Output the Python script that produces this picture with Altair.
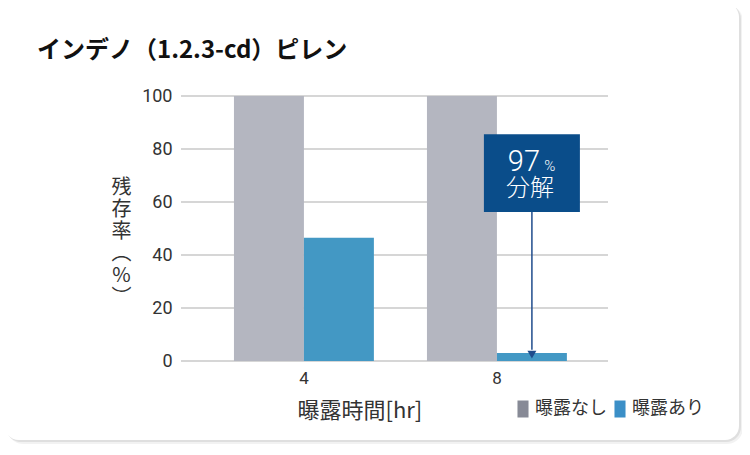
import altair as alt
import pandas as pd

# ---------------- data ----------------
hours = ["4", "8"]
groups = ["曝露なし", "曝露あり"]
no_exposure = [100, 100]
with_exposure = [46.5, 3]
y_ticks = [0, 20, 40, 60, 80, 100]

title_text = "インデノ（1.2.3-cd）ピレン"
y_title = ["残", "存", "率", "︵", "%", "︶"]
x_title = "曝露時間[hr]"
note_value = "97"
note_unit = "%"
note_word = "分解"

# ---------------- styles / layout ----------------
bar_colors = ["#b4b6c0", "#4398c4"]
legend_colors = ["#878a96", "#3b8fc7"]
box_color = "#0a4d8a"
arrow_color = "#1f4c8c"
grid_color = "#c8c8c8"
CJK = "Noto Sans CJK JP"
NUM = "Roboto"
W, H = 427, 265

# annotation placement in data units (box spans, arrow ends)
box_top, box_bottom = 85.6, 56.2
arrow_end, head_pos = 4.2, 2.4
num_base, word_mid = 71.8, 65.0

rows = []
for i, h in enumerate(hours):
    rows.append({"hr": h, "group": groups[0], "value": no_exposure[i]})
    rows.append({"hr": h, "group": groups[1], "value": with_exposure[i]})
df = pd.DataFrame(rows)

grid_df = pd.DataFrame({"value": y_ticks})
ann = pd.DataFrame({
    "hr": [hours[1]], "group": [groups[1]],
    "value": [box_top], "value2": [box_bottom],
})
arrow = pd.DataFrame({
    "hr": [hours[1]], "group": [groups[1]],
    "value": [box_bottom], "value2": [arrow_end],
})
head = pd.DataFrame({"hr": [hours[1]], "group": [groups[1]], "value": [head_pos]})
num_df = pd.DataFrame({"hr": [hours[1]], "group": [groups[1]], "value": [num_base]})
word_df = pd.DataFrame({"hr": [hours[1]], "group": [groups[1]], "value": [word_mid]})
one = pd.DataFrame({"k": [0]})

x_axis = alt.Axis(
    title=x_title, labelAngle=0, ticks=False, domain=False, grid=False,
    labelFont=NUM, labelFontSize=17, labelColor="#333333", labelPadding=9,
    titleFont=CJK, titleFontSize=22, titleFontWeight="normal", titleColor="#333333",
    titleX=116, titleY=49, titleAlign="left", titleBaseline="middle", zindex=1,
)
y_axis = alt.Axis(
    values=y_ticks, title=y_title, titleAngle=0, grid=False, domain=False, ticks=False,
    labelFont=NUM, labelFontSize=18, labelColor="#333333", labelPadding=9,
    titleFont=CJK, titleFontSize=20, titleFontWeight="normal", titleColor="#333333",
    titleX=-60, titleY=91, titleAlign="center", titleBaseline="middle",
    titleLineHeight=22, zindex=1,
)
x_scale = alt.Scale(domain=hours, paddingInner=0.275, paddingOuter=0.2437, align=0.563)
y_scale = alt.Scale(domain=[0, 100], nice=False)


def xe():
    return alt.X("hr:N", scale=x_scale, axis=x_axis, sort=hours)


def xo():
    return alt.XOffset("group:N", scale=alt.Scale(domain=groups, paddingInner=0, paddingOuter=0))


def ye(field="value"):
    return alt.Y(f"{field}:Q", scale=y_scale, axis=y_axis)


# card + shadow
shadow1 = alt.Chart(one).mark_rect(color="#000000", opacity=0.05, cornerRadius=16).encode(
    x=alt.value(-174), x2=alt.value(562), y=alt.value(-91), y2=alt.value(348))
shadow2 = alt.Chart(one).mark_rect(color="#000000", opacity=0.08, cornerRadius=15).encode(
    x=alt.value(-175), x2=alt.value(560), y=alt.value(-92), y2=alt.value(346))
card = alt.Chart(one).mark_rect(color="#ffffff", cornerRadius=14).encode(
    x=alt.value(-176), x2=alt.value(558), y=alt.value(-93), y2=alt.value(344))

grid = alt.Chart(grid_df).mark_rule(color=grid_color, strokeWidth=1.5).encode(
    y=ye(), x=alt.value(0), x2=alt.value(W))

bars = alt.Chart(df).mark_bar().encode(
    x=xe(), xOffset=xo(), y=ye(),
    color=alt.Color("group:N", scale=alt.Scale(domain=groups, range=bar_colors), legend=None),
)

box = alt.Chart(ann).mark_bar(width=96, color=box_color).encode(
    x=xe(), xOffset=xo(), y=ye(), y2="value2")
rule = alt.Chart(arrow).mark_rule(color=arrow_color, strokeWidth=1.5).encode(
    x=xe(), xOffset=xo(), y=ye(), y2="value2")
arrow_head = alt.Chart(head).mark_point(shape="triangle-down", filled=True, size=80,
                                        color=arrow_color, opacity=1).encode(
    x=xe(), xOffset=xo(), y=ye())
t_num = alt.Chart(num_df).mark_text(text=note_value, font=NUM, fontSize=29, fontWeight=300,
                                    color="#ffffff", dx=-8, baseline="alphabetic").encode(
    x=xe(), xOffset=xo(), y=ye())
t_unit = alt.Chart(num_df).mark_text(text=note_unit, font=NUM, fontSize=15, fontWeight=300,
                                     color="#ffffff", dx=18, baseline="alphabetic").encode(
    x=xe(), xOffset=xo(), y=ye())
t_word = alt.Chart(word_df).mark_text(text=note_word, font=CJK, fontSize=24, fontWeight=300,
                                      color="#ffffff", dx=-2, baseline="middle").encode(
    x=xe(), xOffset=xo(), y=ye())

legend_layer = alt.Chart(df).transform_filter("false").mark_bar().encode(
    color=alt.Color(
        "group:N",
        scale=alt.Scale(domain=groups, range=legend_colors),
        legend=alt.Legend(
            title=None, orient="none", legendX=333, legendY=304, direction="horizontal",
            symbolType="M-0.65,-1H0.65V1H-0.65Z", symbolSize=289, symbolStrokeWidth=0,
            labelFont=CJK, labelFontSize=18, labelColor="#333333", labelOffset=3,
            columnPadding=4, padding=0,
        ),
    )
)

chart = (
    alt.layer(shadow1, shadow2, card, grid, bars, box, rule, arrow_head,
              t_num, t_unit, t_word, legend_layer)
    .resolve_scale(color="independent")
    .properties(
        width=W, height=H,
        padding={"left": 173, "top": 88, "right": 134, "bottom": 86},
        autosize=alt.AutoSizeParams(type="none"),
        background="#ffffff",
        title=alt.Title(title_text, anchor="start", frame="group", dx=-144, offset=-79,
                        font=CJK, fontSize=24, fontWeight="bold", color="#111111",
                        baseline="alphabetic"),
    )
    .configure_view(stroke=None)
)

chart.save("out.html", embed_options={"renderer": "svg", "actions": False})
